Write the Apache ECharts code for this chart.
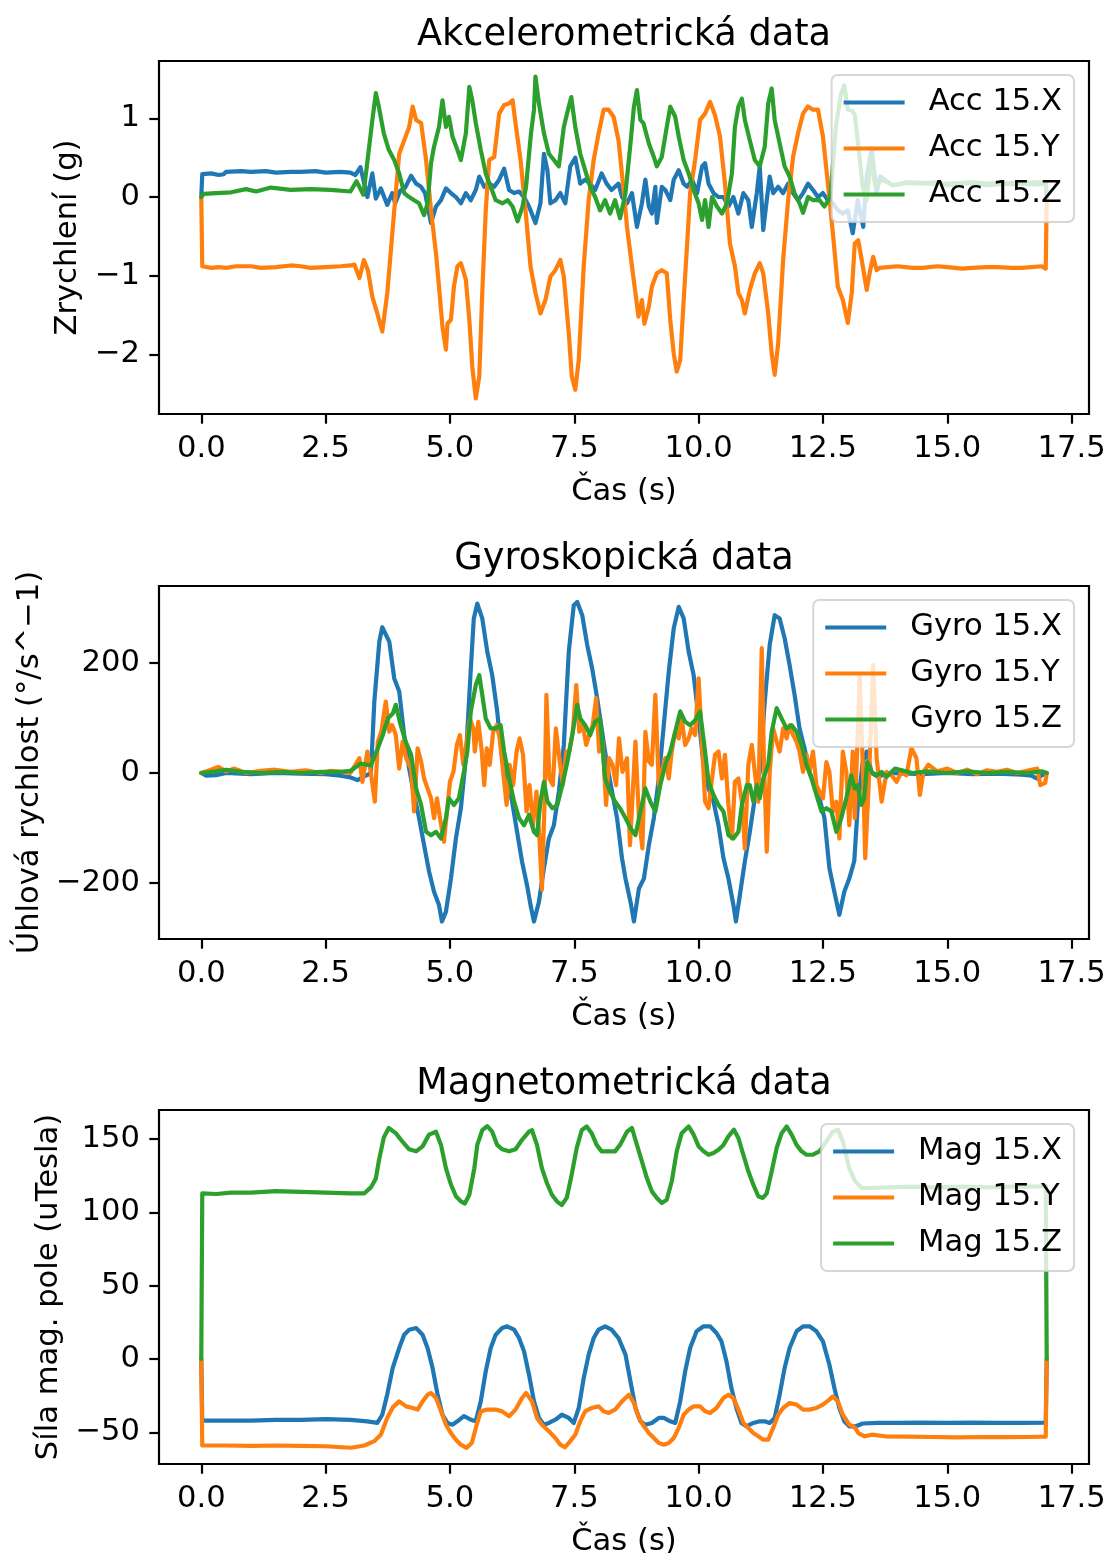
<!DOCTYPE html>
<html>
<head>
<meta charset="utf-8">
<script src="https://cdn.jsdelivr.net/npm/echarts@6/dist/echarts.min.js"></script>
<style>
html,body{margin:0;padding:0;background:#fff;}
#chart{width:1110px;height:1553px;}
</style>
</head>
<body>
<div id="chart"></div>
<script>
// ---------- DATA (time in s, value) ----------
const xTicks = [0, 2.5, 5, 7.5, 10, 12.5, 15, 17.5];
const accTicks = [-2, -1, 0, 1];
const gyroTicks = [-200, 0, 200];
const magTicks = [-50, 0, 50, 100, 150];

const accX = [[0,0],[0.02,0.29],[0.2,0.30],[0.35,0.28],[0.45,0.29],[0.5,0.32],[0.8,0.33],[1.0,0.32],[1.3,0.33],[1.5,0.31],[1.8,0.32],[2.0,0.32],[2.3,0.33],[2.5,0.31],[2.8,0.32],[3.0,0.31],[3.1,0.28],[3.2,0.38],[3.34,0.0],[3.44,0.30],[3.51,-0.02],[3.61,0.11],[3.74,-0.10],[3.84,0.05],[3.9,-0.08],[4.0,0.08],[4.1,0.12],[4.22,0.27],[4.32,0.17],[4.42,0.13],[4.5,0.05],[4.62,-0.33],[4.72,-0.12],[4.82,-0.04],[4.92,0.11],[5.02,0.05],[5.12,0.0],[5.22,-0.08],[5.32,0.05],[5.42,-0.04],[5.52,0.09],[5.59,0.26],[5.69,0.13],[5.79,0.17],[5.89,0.13],[5.99,0.22],[6.09,0.36],[6.19,0.09],[6.29,0.05],[6.39,0.07],[6.49,0.0],[6.59,-0.12],[6.72,-0.33],[6.82,-0.08],[6.89,0.55],[6.96,0.34],[7.02,-0.08],[7.12,-0.04],[7.22,0.05],[7.32,-0.08],[7.42,0.39],[7.52,0.5],[7.62,0.17],[7.72,0.22],[7.82,0.17],[7.92,0.09],[8.05,0.30],[8.15,0.17],[8.25,0.09],[8.39,0.17],[8.46,0.0],[8.56,-0.08],[8.66,0.05],[8.76,-0.38],[8.86,-0.08],[8.93,0.22],[9.0,-0.12],[9.06,-0.21],[9.13,0.13],[9.16,-0.33],[9.26,0.13],[9.33,0.09],[9.43,-0.04],[9.5,0.22],[9.6,0.34],[9.7,0.17],[9.77,0.13],[9.87,0.22],[9.97,0.05],[10.07,0.39],[10.13,0.43],[10.2,0.17],[10.3,0.05],[10.4,0.0],[10.5,0.0],[10.6,-0.12],[10.7,0.0],[10.8,-0.21],[10.9,0.05],[11.0,-0.04],[11.07,-0.38],[11.17,0.05],[11.23,0.39],[11.3,-0.42],[11.37,-0.04],[11.43,0.26],[11.5,0.05],[11.6,0.13],[11.7,0.05],[11.8,0.17],[11.9,0.05],[12.0,-0.04],[12.1,0.05],[12.2,0.17],[12.3,0.09],[12.4,0.0],[12.5,0.05],[12.6,-0.04],[12.7,-0.08],[12.8,-0.17],[12.9,-0.21],[13.0,-0.17],[13.1,-0.46],[13.2,-0.04],[13.31,-0.38],[13.38,0.26],[13.48,0.62],[13.58,0.05],[13.65,0.26],[13.74,0.22],[13.9,0.15],[14.2,0.18],[14.5,0.17],[14.8,0.19],[15.0,0.15],[15.3,0.18],[15.5,0.17],[15.8,0.15],[16.0,0.16],[16.3,0.18],[16.5,0.17],[16.8,0.16],[16.98,0.17],[17.0,0]];

const accY = [[0,0],[0.02,-0.88],[0.2,-0.90],[0.35,-0.89],[0.5,-0.90],[0.7,-0.88],[1.0,-0.88],[1.2,-0.90],[1.5,-0.89],[1.8,-0.87],[2.0,-0.88],[2.2,-0.90],[2.5,-0.89],[2.8,-0.88],[3.0,-0.87],[3.08,-0.86],[3.18,-1.03],[3.27,-0.80],[3.35,-0.93],[3.44,-1.27],[3.54,-1.48],[3.64,-1.71],[3.74,-1.22],[3.81,-0.70],[3.88,-0.17],[3.98,0.55],[4.08,0.72],[4.18,0.89],[4.25,1.15],[4.32,0.98],[4.42,0.94],[4.52,0.47],[4.62,-0.17],[4.72,-0.72],[4.78,-1.14],[4.85,-1.65],[4.92,-1.94],[4.95,-1.61],[5.02,-1.56],[5.08,-1.14],[5.15,-0.88],[5.22,-0.84],[5.32,-1.05],[5.39,-1.56],[5.45,-2.16],[5.52,-2.56],[5.59,-2.28],[5.65,-1.22],[5.72,-0.17],[5.79,0.47],[5.89,0.51],[5.99,1.06],[6.09,1.17],[6.19,1.19],[6.26,1.23],[6.32,0.93],[6.42,0.47],[6.52,-0.17],[6.62,-0.88],[6.72,-1.22],[6.82,-1.48],[6.92,-1.31],[7.02,-1.01],[7.12,-0.93],[7.22,-0.80],[7.29,-1.01],[7.39,-1.73],[7.45,-2.28],[7.52,-2.45],[7.59,-2.07],[7.69,-0.88],[7.79,-0.04],[7.89,0.47],[7.99,0.81],[8.09,1.11],[8.19,1.11],[8.29,1.02],[8.39,0.72],[8.49,0.1],[8.56,-0.38],[8.66,-0.88],[8.73,-1.22],[8.79,-1.52],[8.86,-1.31],[8.91,-1.61],[9.0,-1.39],[9.06,-1.14],[9.16,-0.97],[9.26,-0.93],[9.36,-0.97],[9.43,-1.56],[9.5,-1.99],[9.56,-2.22],[9.63,-2.07],[9.7,-1.31],[9.77,-0.59],[9.83,0.05],[9.93,0.47],[10.03,0.98],[10.13,1.06],[10.23,1.21],[10.33,1.04],[10.43,0.77],[10.53,0.17],[10.63,-0.59],[10.73,-0.88],[10.8,-1.22],[10.87,-1.31],[10.93,-1.48],[11.03,-1.18],[11.13,-0.97],[11.23,-0.84],[11.3,-0.97],[11.4,-1.48],[11.47,-1.99],[11.53,-2.26],[11.6,-1.86],[11.7,-0.80],[11.8,-0.04],[11.9,0.51],[12.0,0.81],[12.1,1.06],[12.2,1.15],[12.3,1.11],[12.4,1.11],[12.5,0.77],[12.6,0.17],[12.7,-0.46],[12.8,-1.14],[12.9,-1.31],[13.0,-1.60],[13.08,-1.22],[13.14,-0.59],[13.21,-0.55],[13.28,-0.80],[13.38,-1.18],[13.45,-0.93],[13.51,-0.76],[13.58,-0.93],[13.64,-0.90],[14.0,-0.88],[14.3,-0.90],[14.5,-0.90],[14.8,-0.88],[15.0,-0.89],[15.3,-0.91],[15.5,-0.90],[15.8,-0.89],[16.0,-0.89],[16.3,-0.90],[16.5,-0.90],[16.9,-0.88],[16.98,-0.91],[17.0,0]];

const accZ = [[0,0],[0.05,0.04],[0.3,0.05],[0.6,0.06],[0.9,0.10],[1.1,0.07],[1.4,0.12],[1.8,0.09],[2.2,0.10],[2.6,0.09],[3.0,0.07],[3.12,0.20],[3.26,0.03],[3.3,0.05],[3.44,0.98],[3.51,1.32],[3.57,1.15],[3.67,0.81],[3.77,0.60],[3.88,0.47],[3.98,0.30],[4.08,0.05],[4.18,0.0],[4.28,-0.04],[4.38,-0.08],[4.48,-0.23],[4.55,-0.08],[4.62,0.43],[4.68,0.64],[4.78,0.89],[4.85,1.23],[4.92,0.89],[4.98,1.02],[5.05,0.77],[5.15,0.60],[5.22,0.47],[5.32,0.81],[5.39,1.40],[5.45,1.23],[5.52,0.94],[5.62,0.60],[5.72,0.30],[5.82,0.13],[5.92,-0.04],[6.06,-0.08],[6.16,-0.04],[6.26,-0.12],[6.36,-0.31],[6.46,-0.12],[6.53,0.13],[6.63,0.81],[6.69,1.11],[6.72,1.53],[6.79,1.19],[6.89,0.81],[6.99,0.55],[7.09,0.47],[7.19,0.39],[7.29,0.89],[7.39,1.15],[7.44,1.27],[7.52,0.89],[7.62,0.55],[7.72,0.34],[7.82,0.13],[7.92,0.0],[8.02,-0.17],[8.12,-0.04],[8.22,-0.21],[8.32,-0.04],[8.42,-0.27],[8.53,0.05],[8.63,0.68],[8.7,1.15],[8.76,1.36],[8.83,0.98],[8.89,0.94],[9.0,0.68],[9.1,0.51],[9.16,0.39],[9.26,0.51],[9.36,0.89],[9.43,1.15],[9.53,1.02],[9.6,0.77],[9.7,0.47],[9.8,0.30],[9.9,0.09],[10.0,-0.08],[10.07,-0.29],[10.13,-0.04],[10.2,-0.38],[10.27,0.0],[10.37,-0.12],[10.47,-0.21],[10.57,-0.08],[10.67,0.30],[10.73,0.89],[10.8,1.15],[10.87,1.25],[10.93,0.98],[11.03,0.72],[11.13,0.47],[11.23,0.39],[11.33,0.64],[11.4,1.19],[11.47,1.38],[11.53,0.98],[11.63,0.68],[11.73,0.39],[11.83,0.26],[11.93,0.05],[12.03,-0.08],[12.1,-0.20],[12.2,0.0],[12.3,-0.04],[12.43,-0.04],[12.53,-0.12],[12.65,0.0],[12.76,0.89],[12.86,1.30],[12.93,1.42],[13.0,1.11],[13.08,1.10],[13.14,1.05],[13.22,0.60],[13.3,0.13],[13.38,-0.04],[13.46,0.50],[13.55,0.15],[13.7,0.22],[13.9,0.15],[14.2,0.19],[14.5,0.18],[14.8,0.16],[15.0,0.17],[15.3,0.18],[15.5,0.19],[15.8,0.17],[16.0,0.18],[16.3,0.16],[16.5,0.17],[16.8,0.19],[16.98,0.18],[17.0,0]];

const gyroX = [[0,0],[0.1,-5],[0.3,-4],[0.5,0],[1.0,-2],[1.5,0],[2.0,-1],[2.5,-2],[2.8,-5],[3.0,-8],[3.14,-13],[3.3,-5],[3.41,0],[3.48,130],[3.58,239],[3.64,265],[3.68,262],[3.78,239],[3.88,172],[3.98,148],[4.08,69],[4.18,8],[4.28,-40],[4.38,-82],[4.48,-131],[4.58,-179],[4.68,-216],[4.78,-240],[4.84,-270],[4.92,-252],[5.02,-192],[5.12,-119],[5.22,-64],[5.32,27],[5.42,190],[5.48,281],[5.55,308],[5.65,281],[5.75,221],[5.85,178],[5.95,112],[6.05,27],[6.15,-10],[6.25,-52],[6.35,-107],[6.45,-161],[6.55,-204],[6.62,-240],[6.69,-270],[6.79,-234],[6.89,-173],[6.99,-119],[7.09,-95],[7.19,-34],[7.29,51],[7.39,221],[7.49,305],[7.56,311],[7.66,287],[7.76,233],[7.86,190],[7.96,136],[8.06,75],[8.16,15],[8.26,-34],[8.36,-82],[8.46,-155],[8.53,-192],[8.63,-234],[8.7,-270],[8.8,-210],[8.9,-192],[9.0,-131],[9.1,-82],[9.2,-10],[9.3,87],[9.4,184],[9.5,263],[9.6,302],[9.7,281],[9.8,221],[9.9,178],[10.0,99],[10.1,15],[10.2,-28],[10.3,-52],[10.4,-95],[10.5,-155],[10.6,-192],[10.7,-240],[10.75,-270],[10.83,-222],[10.93,-161],[11.03,-107],[11.13,-46],[11.23,2],[11.33,130],[11.43,233],[11.53,287],[11.63,281],[11.73,245],[11.83,196],[11.93,142],[12.03,81],[12.13,45],[12.23,2],[12.33,-22],[12.43,-46],[12.53,-82],[12.63,-173],[12.73,-216],[12.83,-258],[12.93,-216],[13.03,-192],[13.13,-160],[13.2,-60],[13.3,20],[13.38,39],[13.48,0],[13.61,-7],[13.8,0],[14.5,-2],[15.0,0],[15.5,-2],[16.0,-1],[16.5,-3],[16.7,-5],[16.81,-10],[16.9,-4],[17.0,0]];

const gyroY = [[0,0],[0.1,3],[0.34,11],[0.5,3],[0.67,8],[0.9,0],[1.2,4],[1.48,6],[1.8,2],[2.1,5],[2.4,0],[2.6,4],[2.8,2],[3.0,0],[3.18,27],[3.24,-16],[3.34,39],[3.41,0],[3.49,-52],[3.55,57],[3.62,75],[3.71,130],[3.78,75],[3.84,87],[3.91,70],[3.98,8],[4.05,57],[4.12,27],[4.22,8],[4.28,-70],[4.35,45],[4.42,21],[4.48,-10],[4.55,-28],[4.62,-46],[4.68,-82],[4.74,-46],[4.8,-82],[4.88,-125],[4.94,-70],[5.0,-16],[5.07,2],[5.14,51],[5.2,69],[5.27,15],[5.34,57],[5.4,99],[5.47,81],[5.5,39],[5.57,93],[5.64,39],[5.69,-22],[5.74,45],[5.8,15],[5.87,75],[5.94,87],[6.0,63],[6.07,2],[6.14,-58],[6.2,15],[6.27,-22],[6.34,39],[6.4,63],[6.47,33],[6.54,-70],[6.6,-22],[6.67,-95],[6.74,-34],[6.8,-120],[6.85,-212],[6.9,-60],[6.94,142],[7.0,-10],[7.07,-22],[7.13,81],[7.2,27],[7.27,-22],[7.34,39],[7.4,39],[7.47,75],[7.54,160],[7.6,75],[7.67,87],[7.74,51],[7.8,69],[7.87,87],[7.94,136],[8.0,39],[8.07,57],[8.14,-58],[8.2,27],[8.27,15],[8.34,-22],[8.4,63],[8.47,2],[8.56,27],[8.62,-131],[8.68,-28],[8.73,57],[8.8,-82],[8.87,-137],[8.93,75],[9.0,21],[9.06,15],[9.13,142],[9.2,-22],[9.26,2],[9.33,27],[9.4,-10],[9.46,39],[9.53,75],[9.6,63],[9.66,99],[9.73,51],[9.8,63],[9.86,81],[9.93,69],[10.0,172],[10.07,51],[10.13,-52],[10.2,-64],[10.27,-10],[10.33,33],[10.4,39],[10.47,-10],[10.53,33],[10.6,-58],[10.67,-119],[10.73,-16],[10.8,-10],[10.87,-52],[10.93,-137],[11.0,15],[11.07,51],[11.13,2],[11.2,-52],[11.27,227],[11.31,39],[11.37,-143],[11.43,2],[11.5,81],[11.57,57],[11.63,39],[11.7,81],[11.77,63],[11.83,87],[11.9,69],[11.97,57],[12.03,39],[12.1,2],[12.17,33],[12.23,2],[12.3,39],[12.37,-22],[12.43,-34],[12.5,-46],[12.57,20],[12.63,2],[12.7,-70],[12.77,-52],[12.83,-119],[12.9,39],[12.97,2],[13.03,-95],[13.1,39],[13.14,-82],[13.24,178],[13.31,-10],[13.35,-155],[13.42,-22],[13.51,196],[13.58,27],[13.68,-52],[13.78,2],[13.88,-4],[13.98,-16],[14.08,2],[14.18,-4],[14.28,45],[14.38,27],[14.45,-40],[14.52,2],[14.62,15],[14.8,3],[15.0,8],[15.2,0],[15.4,6],[15.6,-2],[15.8,5],[16.0,2],[16.2,6],[16.4,0],[16.6,4],[16.81,8],[16.87,-22],[16.97,-18],[17.0,0]];

const gyroZ = [[0,0],[0.3,3],[0.5,6],[0.8,2],[1.2,0],[1.6,2],[2.0,0],[2.4,2],[2.8,2],[3.0,4],[3.11,11],[3.2,17],[3.41,14],[3.55,45],[3.65,69],[3.75,99],[3.85,108],[3.91,124],[4.01,87],[4.11,57],[4.22,33],[4.32,-28],[4.42,-58],[4.52,-107],[4.62,-113],[4.72,-107],[4.82,-119],[4.92,-82],[4.98,-46],[5.08,-58],[5.18,-46],[5.28,2],[5.35,39],[5.42,112],[5.52,160],[5.59,178],[5.65,142],[5.72,99],[5.82,81],[5.92,81],[6.02,87],[6.09,39],[6.19,-10],[6.29,-52],[6.39,-82],[6.49,-95],[6.59,-76],[6.69,-107],[6.75,-113],[6.82,-52],[6.89,-16],[6.96,-52],[7.06,-64],[7.16,-58],[7.26,-22],[7.36,20],[7.46,69],[7.56,124],[7.62,99],[7.72,87],[7.82,69],[7.92,93],[8.02,99],[8.12,-10],[8.22,-34],[8.32,-52],[8.42,-64],[8.53,-82],[8.63,-100],[8.73,-113],[8.83,-70],[8.93,-28],[9.03,-52],[9.13,-70],[9.23,-22],[9.33,15],[9.43,39],[9.53,75],[9.63,112],[9.73,93],[9.83,87],[9.93,96],[10.03,112],[10.13,39],[10.2,-16],[10.3,-40],[10.4,-58],[10.5,-70],[10.6,-113],[10.7,-119],[10.8,-107],[10.87,-58],[10.97,-22],[11.03,-22],[11.1,-52],[11.17,-22],[11.23,-46],[11.3,-10],[11.4,15],[11.47,75],[11.57,118],[11.67,99],[11.77,81],[11.87,87],[11.97,75],[12.07,51],[12.17,15],[12.27,-10],[12.37,-40],[12.47,-70],[12.57,-64],[12.67,-70],[12.77,-107],[12.87,-82],[12.97,-46],[13.07,-4],[13.14,-28],[13.2,-22],[13.27,-58],[13.33,-46],[13.39,20],[13.48,2],[13.58,-4],[13.68,2],[13.78,-7],[13.95,8],[14.3,0],[14.6,3],[15.0,0],[15.4,3],[15.8,0],[16.2,2],[16.6,0],[16.9,3],[17.0,0]];

const magX = [[0,0],[0.02,-42],[0.5,-42],[1.0,-42],[1.5,-41.5],[2.0,-41.5],[2.5,-41],[3.0,-41.5],[3.34,-42.5],[3.54,-43.6],[3.64,-38],[3.74,-24],[3.85,-6],[3.98,7.5],[4.08,16.6],[4.18,20],[4.32,21.1],[4.45,16.6],[4.55,7.5],[4.65,-6],[4.75,-24],[4.85,-38],[4.95,-43.6],[5.05,-44.8],[5.15,-42.5],[5.28,-39],[5.42,-41.4],[5.52,-42.5],[5.62,-28.9],[5.72,-8.4],[5.82,7.5],[5.92,16.6],[6.05,21.1],[6.15,22.3],[6.29,20],[6.39,14.3],[6.49,5.2],[6.59,-10.7],[6.69,-28.9],[6.79,-40.2],[6.89,-44.8],[6.99,-43.6],[7.12,-41.4],[7.25,-38],[7.39,-40.2],[7.49,-43.6],[7.59,-33.4],[7.69,-13],[7.79,3],[7.89,14.3],[7.99,20],[8.12,22.3],[8.25,20],[8.39,14.3],[8.53,3],[8.63,-15.2],[8.73,-33.4],[8.83,-42.5],[8.93,-44.8],[9.06,-43.6],[9.2,-40.2],[9.3,-40.2],[9.43,-42.5],[9.53,-43.6],[9.63,-28.9],[9.73,-8.4],[9.83,7.5],[9.96,18.9],[10.1,22.3],[10.23,22.3],[10.36,17.7],[10.46,12],[10.56,-1.6],[10.66,-19.8],[10.76,-33.4],[10.86,-43.6],[10.96,-45.9],[11.1,-43.6],[11.23,-42.5],[11.33,-42.5],[11.43,-43.6],[11.53,-40.2],[11.63,-24.3],[11.73,-6.1],[11.83,7.5],[11.97,18.9],[12.1,22.3],[12.23,22.3],[12.37,18.9],[12.5,12],[12.63,-3.9],[12.73,-19.8],[12.83,-33.4],[12.93,-42.5],[13.03,-45.9],[13.15,-46],[13.3,-44],[13.6,-43.5],[14.0,-43.6],[14.5,-43.4],[15.0,-43.6],[15.5,-43.4],[16.0,-43.6],[16.5,-43.5],[16.98,-43.4],[17.0,0]];

const magY = [[0,0],[0.02,-59],[0.5,-59],[1.0,-59.3],[1.5,-59],[2.0,-59.3],[2.5,-59.5],[3.01,-60.5],[3.28,-59],[3.48,-56],[3.61,-51.6],[3.74,-40],[3.85,-33],[3.98,-28.9],[4.12,-32.3],[4.25,-33.4],[4.35,-34.5],[4.45,-28.9],[4.55,-24.3],[4.62,-23.2],[4.72,-26.6],[4.82,-35.7],[4.92,-44.8],[5.02,-50.5],[5.12,-55],[5.22,-58.4],[5.33,-60.6],[5.44,-57.3],[5.52,-47],[5.62,-35.7],[5.75,-34.5],[5.92,-34.5],[6.05,-35.7],[6.19,-39],[6.32,-34.5],[6.45,-26.6],[6.53,-23.2],[6.65,-28.9],[6.75,-40.2],[6.85,-44.8],[6.99,-49.3],[7.12,-53.9],[7.22,-58.4],[7.31,-60.2],[7.42,-56],[7.52,-51.6],[7.62,-42.5],[7.72,-35.7],[7.85,-33.4],[7.99,-32.3],[8.09,-35.7],[8.19,-36.8],[8.32,-34.5],[8.46,-28.9],[8.53,-26.6],[8.6,-24.3],[8.7,-30],[8.8,-40.2],[8.9,-45.9],[9.0,-50.5],[9.1,-53.9],[9.2,-57.3],[9.3,-58.4],[9.4,-57.3],[9.5,-53.9],[9.6,-47],[9.7,-38],[9.8,-34.5],[9.9,-32.3],[10.03,-32.3],[10.13,-35.7],[10.23,-36.8],[10.36,-33.4],[10.5,-26.6],[10.6,-24.3],[10.7,-26.6],[10.8,-34.5],[10.9,-43.6],[11.0,-47],[11.1,-50.5],[11.2,-52.7],[11.3,-55],[11.4,-55],[11.5,-47],[11.6,-38],[11.7,-33.4],[11.83,-30],[11.97,-31.1],[12.1,-34.5],[12.23,-34.5],[12.37,-33.4],[12.5,-31.1],[12.63,-27.7],[12.7,-25.5],[12.8,-28.9],[12.9,-38],[13.03,-44.8],[13.15,-47],[13.21,-50.5],[13.34,-52.7],[13.48,-51.6],[13.75,-52.7],[14.2,-53],[14.7,-53.2],[15.2,-53.5],[15.7,-53.2],[16.2,-53.3],[16.6,-53.2],[16.98,-53],[17.0,0]];

const magZ = [[0,0],[0.02,113],[0.3,112.5],[0.6,113.5],[1.0,113.5],[1.5,114.5],[2.0,114],[2.5,113.5],[3.0,113],[3.28,113],[3.41,117],[3.51,123],[3.57,135],[3.67,151],[3.77,157.5],[3.91,154],[4.05,148],[4.18,143],[4.32,141.6],[4.45,145],[4.58,153],[4.72,155],[4.82,146],[4.92,130],[5.02,119],[5.12,111],[5.22,107.5],[5.3,106],[5.39,112],[5.49,130],[5.55,146],[5.65,156],[5.75,158.8],[5.85,155],[5.95,146],[6.05,143],[6.19,141.6],[6.32,143],[6.45,149.5],[6.59,155],[6.65,156],[6.75,146],[6.85,130],[6.95,120],[7.05,112],[7.15,107.5],[7.25,105],[7.35,110],[7.45,126],[7.55,144],[7.65,156],[7.75,158.6],[7.85,154],[7.95,146],[8.05,141.6],[8.19,141.6],[8.32,141.6],[8.42,146],[8.56,155],[8.66,157.5],[8.76,146],[8.86,134.8],[8.96,123.4],[9.06,114.3],[9.16,109.8],[9.26,106.4],[9.36,108.6],[9.46,121],[9.56,141.6],[9.66,154],[9.8,158.6],[9.9,153],[10.0,145],[10.1,141.6],[10.2,139.3],[10.3,140.5],[10.4,142.7],[10.5,146],[10.6,151.8],[10.71,156.4],[10.8,150.7],[10.9,139.3],[11.0,128],[11.1,118.9],[11.2,111],[11.29,109.8],[11.37,113],[11.47,128],[11.57,143.9],[11.67,154],[11.77,158.6],[11.87,153],[11.97,146],[12.07,141.6],[12.17,139.3],[12.3,139.3],[12.43,141.6],[12.57,148.4],[12.7,155],[12.8,156.4],[12.9,148.4],[13.03,130],[13.15,121],[13.28,116.6],[13.41,116.6],[13.8,117],[14.3,117.5],[14.8,117],[15.3,117.5],[15.8,117],[16.3,117.5],[16.8,117.5],[16.98,118],[17.0,0]];

// ---------- CHART ----------
const FONT = "'DejaVu Sans', 'Liberation Sans', sans-serif";
const C = ['#1f77b4', '#ff7f0e', '#2ca02c'];
const fmt = v => String(v).replace('-', '\u2212');
const fmtX = v => v.toFixed(1);

const grids = [
  {left: 159, top: 61, width: 930, height: 353},
  {left: 159, top: 586, width: 930, height: 353},
  {left: 159, top: 1110, width: 930, height: 354}
].map(g => Object.assign({show: true, borderColor: '#000', borderWidth: 2.2, backgroundColor: 'transparent', containLabel: false, outerBoundsMode: 'none'}, g));

function xAxisFor(i) {
  return {
    type: 'value', gridIndex: i, min: -0.85, max: 17.85, position: 'bottom',
    name: 'Čas (s)', nameLocation: 'middle', nameGap: 63,
    nameTextStyle: {fontSize: 30.6, fontFamily: FONT, color: '#000'},
    axisLine: {show: false, onZero: false},
    axisTick: {show: true, length: 9.7, lineStyle: {color: '#000', width: 2.2}, customValues: xTicks},
    axisLabel: {show: true, margin: 20, fontSize: 30.6, fontFamily: FONT, color: '#000', customValues: xTicks, formatter: fmtX},
    splitLine: {show: false}
  };
}
function yAxisFor(i, min, max, ticks, name, gap) {
  return {
    type: 'value', gridIndex: i, min: min, max: max, position: 'left',
    name: name, nameLocation: 'middle', nameGap: gap,
    nameTextStyle: {fontSize: 30.6, fontFamily: FONT, color: '#000'},
    axisLine: {show: false, onZero: false},
    axisTick: {show: true, length: 9.7, lineStyle: {color: '#000', width: 2.2}, customValues: ticks},
    axisLabel: {show: true, margin: 19, fontSize: 30.6, fontFamily: FONT, color: '#000', customValues: ticks, formatter: fmt, padding: [7, 0, 0, 0]},
    splitLine: {show: false}
  };
}

function line(name, data, color, idx) {
  return {
    name: name, type: 'line', data: data, xAxisIndex: idx, yAxisIndex: idx,
    showSymbol: false, symbol: 'none', animation: false,
    lineStyle: {color: color, width: 4.2, join: 'round', cap: 'round'}, itemStyle: {color: color},
    emphasis: {disabled: true}, clip: true
  };
}

function legendFor(names, top) {
  return {
    data: names, orient: 'vertical', right: 36, top: top,
    icon: 'rect', itemWidth: 61, itemHeight: 4, itemGap: 15,
    padding: [12, 12, 12, 12],
    backgroundColor: 'rgba(255,255,255,0.8)',
    borderColor: 'rgba(204,204,204,0.8)', borderWidth: 2, borderRadius: 6,
    selectedMode: false,
    textStyle: {fontSize: 30.6, lineHeight: 30.6, fontFamily: FONT, color: '#000', padding: [0, 0, 0, 19]}
  };
}

function titleFor(text, top) {
  return {
    text: text, left: 624, top: top, textAlign: 'center', padding: 0,
    textStyle: {fontSize: 36.7, lineHeight: 36.7, fontWeight: 'normal', fontFamily: FONT, color: '#000'}
  };
}

const chart = echarts.init(document.getElementById('chart'), null, {renderer: 'canvas'});
chart.setOption({
  animation: false,
  backgroundColor: '#fff',
  title: [
    titleFor('Akcelerometrická data', 17),
    titleFor('Gyroskopická data', 541),
    titleFor('Magnetometrická data', 1066)
  ],
  grid: grids,
  xAxis: [xAxisFor(0), xAxisFor(1), xAxisFor(2)],
  yAxis: [
    yAxisFor(0, -2.758, 1.729, accTicks, 'Zrychlení (g)', 72),
    yAxisFor(1, -301.8, 340, gyroTicks, 'Úhlová rychlost (°/s^\u22121)', 108),
    yAxisFor(2, -71.6, 169.8, magTicks, 'Síla mag. pole (uTesla)', 91)
  ],
  legend: [
    legendFor(['Acc 15.X', 'Acc 15.Y', 'Acc 15.Z'], 75),
    legendFor(['Gyro 15.X', 'Gyro 15.Y', 'Gyro 15.Z'], 600),
    legendFor(['Mag 15.X', 'Mag 15.Y', 'Mag 15.Z'], 1124)
  ],
  series: [
    line('Acc 15.X', accX, C[0], 0),
    line('Acc 15.Y', accY, C[1], 0),
    line('Acc 15.Z', accZ, C[2], 0),
    line('Gyro 15.X', gyroX, C[0], 1),
    line('Gyro 15.Y', gyroY, C[1], 1),
    line('Gyro 15.Z', gyroZ, C[2], 1),
    line('Mag 15.X', magX, C[0], 2),
    line('Mag 15.Y', magY, C[1], 2),
    line('Mag 15.Z', magZ, C[2], 2)
  ]
});
</script>
</body>
</html>
